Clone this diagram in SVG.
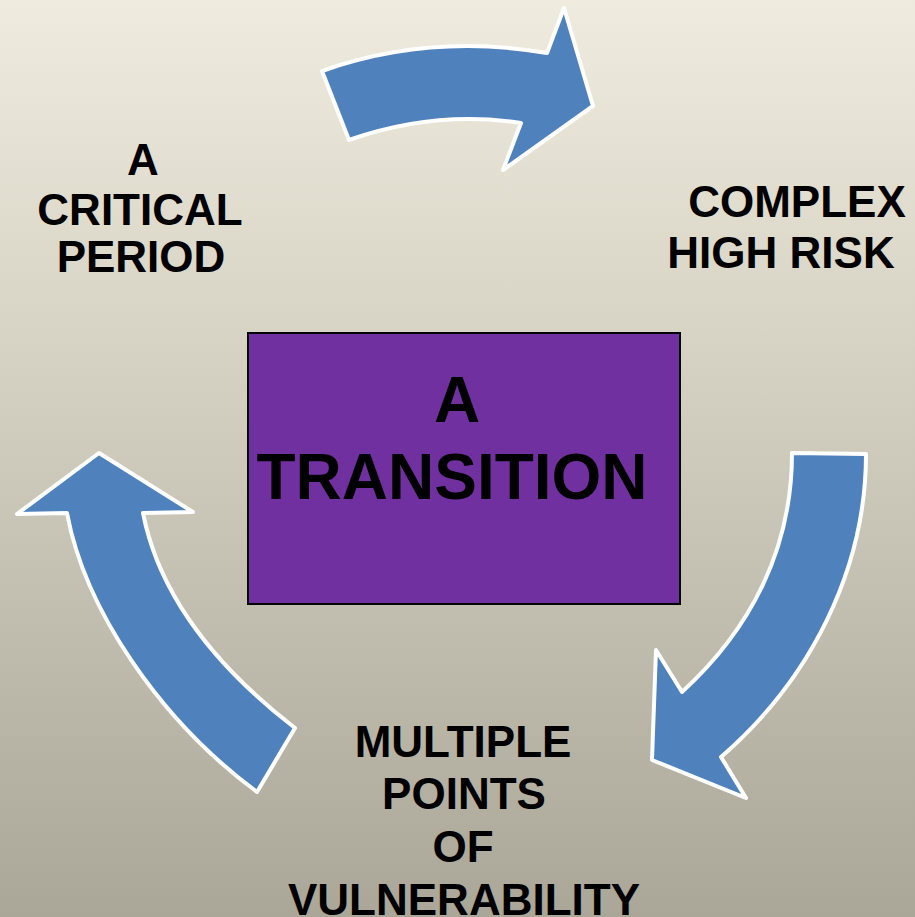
<svg xmlns="http://www.w3.org/2000/svg" width="915" height="917" viewBox="0 0 915 917">
  <defs>
    <linearGradient id="bg" x1="0" y1="0" x2="0" y2="1">
      <stop offset="0" stop-color="#EFECDF"/>
      <stop offset="0.5" stop-color="#CECABB"/>
      <stop offset="1" stop-color="#AAA698"/>
    </linearGradient>
  </defs>
  <style>
    .label { font-family: "Liberation Sans", Arial, sans-serif; font-weight: bold; font-size: 44px; fill: #000; text-anchor: middle; }
    .center { font-family: "Liberation Sans", Arial, sans-serif; font-weight: bold; font-size: 64px; fill: #000; text-anchor: middle; }
    .box { fill: #7030A0; stroke: #000; stroke-width: 2; }
    .arrow { fill: #4F81BD; stroke: #FFFFFF; stroke-width: 4; stroke-linejoin: round; }
  </style>

  <rect width="915" height="917" fill="url(#bg)"/>

  <!-- curved block arrows forming the cycle -->
  <g id="connectors">
    <path class="arrow" d="M 322,71 Q 430,33 547,53 L 564,8 L 593,106 L 503,170 L 521,123 Q 435,110 349,140 Z"/>
    <path class="arrow" d="M 792,453 L 866,454 C 866,570 810,680 721,757 L 746,798 L 652,760 L 656,650 L 682,692 C 750,630 792,550 792,453 Z"/>
    <path class="arrow" d="M 99,453 L 17,514 L 67,513 C 85,610 160,720 257,792 L 295,728 C 220,670 160,600 143,513 L 193,512 Z"/>
  </g>

  <g id="transition">
    <rect class="box" x="248" y="333" width="432" height="271"/>
    <text class="center" x="457" y="422">A</text>
    <text class="center" x="452" y="499">TRANSITION</text>
  </g>

  <g id="critical-period">
    <text class="label" x="143" y="175">A</text>
    <text class="label" x="140" y="225">CRITICAL</text>
    <text class="label" x="141" y="272">PERIOD</text>
  </g>

  <g id="complex-high-risk">
    <text class="label" x="797" y="217">COMPLEX</text>
    <text class="label" x="781" y="268">HIGH RISK</text>
  </g>

  <g id="vulnerability">
    <text class="label" x="463" y="757">MULTIPLE</text>
    <text class="label" x="464" y="809">POINTS</text>
    <text class="label" x="463" y="862">OF</text>
    <text class="label" x="464" y="915">VULNERABILITY</text>
  </g>
</svg>
